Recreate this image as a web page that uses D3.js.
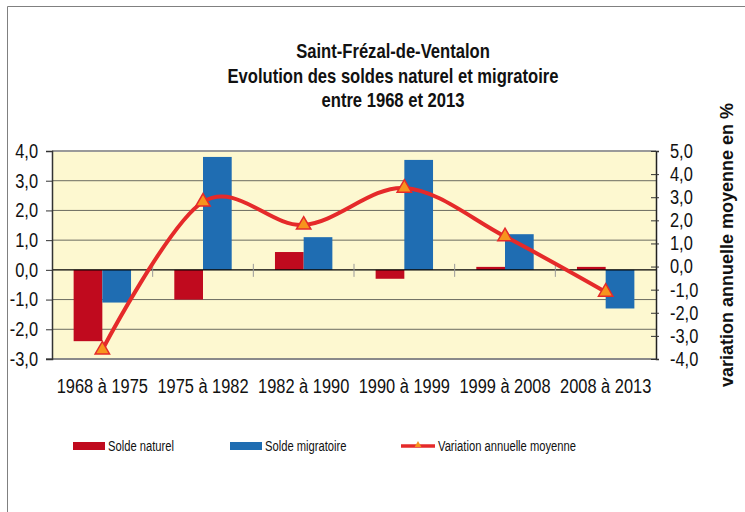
<!DOCTYPE html>
<html>
<head>
<meta charset="utf-8">
<script src="https://cdn.jsdelivr.net/npm/d3@7"></script>
<style>
  body { margin: 0; background: #fff; }
  text { font-family: "Liberation Sans", Arial, sans-serif; fill: #111; }
  .title { font-weight: bold; font-size: 21px; }
  .tick text { font-size: 20px; }
  .xlab { font-size: 20px; }
  .ylab2 { font-weight: bold; font-size: 18px; }
  .legend { font-size: 14px; }
</style>
</head>
<body>
<svg width="745" height="512"></svg>
<script>
const categories = ['1968 à 1975', '1975 à 1982', '1982 à 1990', '1990 à 1999', '1999 à 2008', '2008 à 2013'];
const soldeNaturel = [-2.4, -1.0, 0.6, -0.3, 0.1, 0.1];
const soldeMigratoire = [-1.1, 3.8, 1.1, 3.7, 1.2, -1.3];
const variation = [-3.6, 2.8, 1.8, 3.4, 1.3, -1.1];
const leftTicks = [4, 3, 2, 1, 0, -1, -2, -3];
const rightTicks = [5, 4, 3, 2, 1, 0, -1, -2, -3, -4];
const titleLines = ['Saint-Frézal-de-Ventalon', 'Evolution des soldes naturel et migratoire', 'entre 1968 et 2013'];

const svg = d3.select('svg');
const fmt = d => d3.format('.1f')(d).replace('.', ',').replace('−', '-');

// no narrow font available, so squeeze the text horizontally
function condense(sel, f) {
  sel.each(function () {
    const w = this.getComputedTextLength();
    this.setAttribute('textLength', w * f);
    this.setAttribute('lengthAdjust', 'spacingAndGlyphs');
  });
}

// outer frame
svg.append('path')
  .attr('d', 'M7.5,512 V6.5 H745')
  .attr('fill', 'none')
  .attr('stroke', '#808080')
  .attr('stroke-width', 1);

const pLeft = 52, pRight = 656, pTop = 151, pBottom = 359;

const x = d3.scaleBand().domain(categories).range([pLeft, pRight]);
const y = d3.scaleLinear().domain([-3, 4]).range([pBottom, pTop]);
const y2 = d3.scaleLinear().domain([-4, 5]).range([pBottom, pTop]);

// plot background
svg.append('rect')
  .attr('x', pLeft).attr('y', pTop)
  .attr('width', pRight - pLeft).attr('height', pBottom - pTop)
  .attr('fill', '#FDF8D0');

// grid
svg.append('g')
  .selectAll('line')
  .data(leftTicks.filter(d => d !== 0))
  .enter().append('line')
  .attr('x1', pLeft).attr('x2', pRight)
  .attr('y1', d => y(d)).attr('y2', d => y(d))
  .attr('stroke', '#6b6b60').attr('stroke-width', 1);

// plot border top / bottom
svg.append('line').attr('x1', pLeft).attr('x2', pRight).attr('y1', pTop).attr('y2', pTop)
  .attr('stroke', '#9a9a9a').attr('stroke-width', 2);
svg.append('line').attr('x1', 46).attr('x2', pRight).attr('y1', pBottom).attr('y2', pBottom)
  .attr('stroke', '#8a8a8a').attr('stroke-width', 2);

// bars
const bw = 28.7;
const bars = svg.append('g');
categories.forEach((c, i) => {
  const cx = x(c) + x.bandwidth() / 2;
  [[soldeNaturel[i], '#C00A1E', -bw], [soldeMigratoire[i], '#1F6DB2', 0]].forEach(([v, col, off]) => {
    bars.append('rect')
      .attr('x', cx + off)
      .attr('width', bw)
      .attr('y', Math.min(y(v), y(0)))
      .attr('height', Math.abs(y(v) - y(0)))
      .attr('fill', col);
  });
});

// zero line + category ticks
svg.append('line').attr('x1', pLeft).attr('x2', pRight).attr('y1', y(0)).attr('y2', y(0))
  .attr('stroke', '#000').attr('stroke-width', 1.2);
svg.append('g').selectAll('line')
  .data(categories.slice(1))
  .enter().append('line')
  .attr('x1', d => x(d)).attr('x2', d => x(d))
  .attr('y1', y(0) - 6).attr('y2', y(0) + 7)
  .attr('stroke', '#999');

// left axis
const gl = svg.append('g')
  .attr('transform', `translate(${pLeft},0)`)
  .call(d3.axisLeft(y).tickValues(leftTicks).tickFormat(fmt).tickSize(6).tickPadding(8));
gl.select('.domain').attr('stroke', '#333').attr('stroke-width', 1.5);
gl.selectAll('.tick line').attr('stroke', '#333');
gl.selectAll('.tick text').attr('fill', '#111').call(condense, 0.82);

// right axis
const gr = svg.append('g')
  .attr('transform', `translate(${pRight},0)`)
  .call(d3.axisRight(y2).tickValues(rightTicks).tickFormat(fmt).tickSize(3).tickPadding(11));
gr.select('.domain').attr('stroke', '#222').attr('stroke-width', 1.5);
gr.selectAll('.tick line').attr('stroke', '#333').attr('x1', -5);
gr.selectAll('.tick text').attr('fill', '#111').call(condense, 0.82);

// x labels
svg.append('g').selectAll('text')
  .data(categories)
  .enter().append('text')
  .attr('class', 'xlab')
  .attr('x', d => x(d) + x.bandwidth() / 2)
  .attr('y', 393)
  .attr('text-anchor', 'middle')
  .text(d => d)
  .call(condense, 0.82);

// line
const pts = categories.map((c, i) => [x(c) + x.bandwidth() / 2, y2(variation[i])]);
svg.append('path')
  .attr('d', d3.line().curve(d3.curveCardinal.tension(0))(pts))
  .attr('fill', 'none')
  .attr('stroke', '#E52A2A')
  .attr('stroke-width', 4);

const tri = d3.symbol().type(d3.symbolTriangle).size(90);
svg.append('g').selectAll('path')
  .data(pts)
  .enter().append('path')
  .attr('transform', d => `translate(${d[0]},${d[1]})`)
  .attr('d', tri)
  .attr('fill', '#F7941D')
  .attr('stroke', '#E52A2A')
  .attr('stroke-width', 1.5);

// titles
svg.append('g').selectAll('text')
  .data(titleLines)
  .enter().append('text')
  .attr('class', 'title')
  .attr('x', 393)
  .attr('y', (d, i) => 58 + i * 24.5)
  .attr('text-anchor', 'middle')
  .text(d => d)
  .call(condense, 0.79);

// right axis label
svg.append('text')
  .attr('class', 'ylab2')
  .attr('transform', 'translate(733,245) rotate(-90)')
  .attr('text-anchor', 'middle')
  .text('variation annuelle moyenne en %');

// legend
const lg = svg.append('g');
lg.append('rect').attr('x', 73).attr('y', 442).attr('width', 32).attr('height', 8).attr('fill', '#C00A1E');
lg.append('rect').attr('x', 230).attr('y', 442).attr('width', 32).attr('height', 8).attr('fill', '#1F6DB2');
lg.append('line').attr('x1', 401).attr('x2', 435).attr('y1', 446).attr('y2', 446)
  .attr('stroke', '#E52A2A').attr('stroke-width', 3.5);
lg.append('path').attr('transform', 'translate(418,445)').attr('d', d3.symbol().type(d3.symbolTriangle).size(20))
  .attr('fill', '#F7941D');
lg.selectAll('text')
  .data([[108, 'Solde naturel'], [265, 'Solde migratoire'], [438, 'Variation annuelle moyenne']])
  .enter().append('text')
  .attr('class', 'legend')
  .attr('x', d => d[0]).attr('y', 451)
  .text(d => d[1])
  .call(condense, 0.8);
</script>
</body>
</html>
